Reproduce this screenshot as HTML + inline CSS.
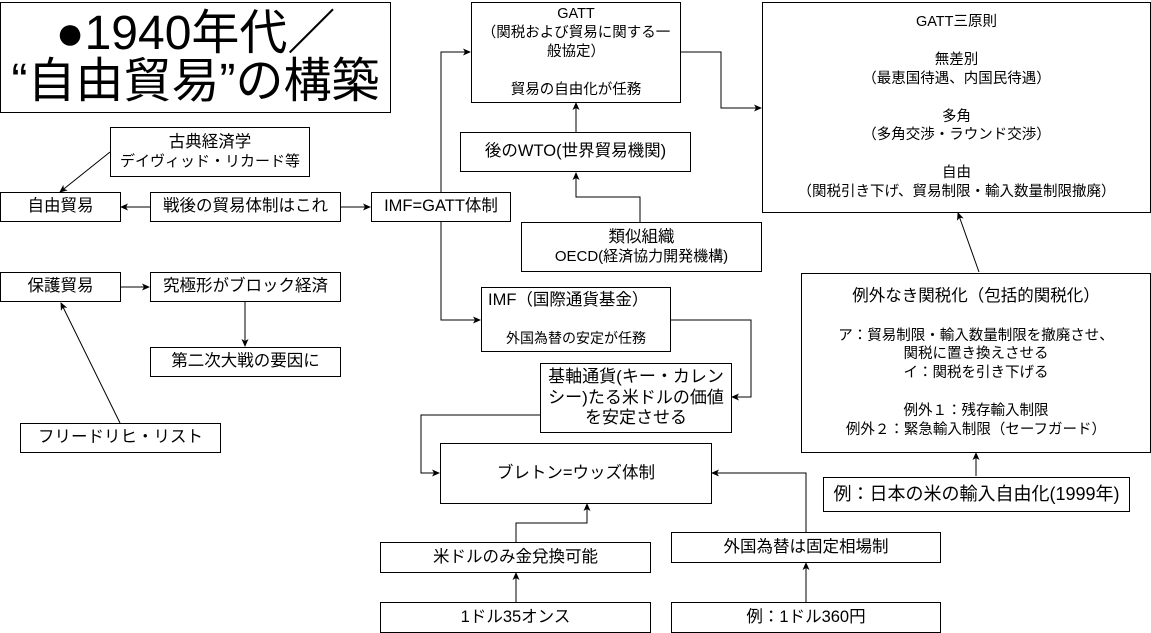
<!DOCTYPE html>
<html><head><meta charset="utf-8"><style>
body{margin:0;width:1151px;height:633px;background:#fff;position:relative;overflow:hidden;font-family:"Liberation Sans","Noto Sans CJK JP",sans-serif;color:#000}
.b{position:absolute;border:1px solid #000;box-sizing:border-box;display:flex;flex-direction:column;align-items:center;justify-content:center;text-align:center;background:#fff;font-size:16.5px;line-height:1.2;white-space:nowrap}
.s{font-size:14px;line-height:1.3}
svg{position:absolute;left:0;top:0}
</style></head><body>
<svg width="1151" height="633" viewBox="0 0 1151 633">
<defs><marker id="a" markerWidth="8" markerHeight="8" refX="7" refY="4" orient="auto" markerUnits="userSpaceOnUse"><path d="M0,0.5 L8,4 L0,7.5 L2,4 Z" fill="#000"/></marker></defs>
<g fill="none" stroke="#000" stroke-width="1" marker-end="url(#a)">
<path d="M110,152 L60,192"/>
<path d="M150,207 L121,207"/>
<path d="M341,207 L370,207"/>
<path d="M120,287 L149,287"/>
<path d="M245,302 L245,346"/>
<path d="M120,423 L61,303"/>
<path d="M441,192 L441,52 L470,52"/>
<path d="M441,222 L441,320 L480,320"/>
<path d="M681,52 L721,52 L721,108 L761,108"/>
<path d="M576,132 L576,103"/>
<path d="M640,222 L640,197 L576,197 L576,173"/>
<path d="M979,272 L958,213"/>
<path d="M976,476 L976,453"/>
<path d="M671,320 L751,320 L751,397 L732,397"/>
<path d="M540,415 L421,415 L421,473 L439,473"/>
<path d="M806,532 L806,473 L712,473"/>
<path d="M516,542 L516,523 L587,523 L587,504"/>
<path d="M516,602 L516,573"/>
<path d="M806,602 L806,563"/>
</g></svg>

<div class="b" style="left:0;top:2px;width:391px;height:111px;font-size:48px;line-height:1.0"><div>●1940年代／</div><div>“自由貿易”の構築</div></div>
<div class="b" style="left:110px;top:127px;width:200px;height:50px">古典経済学<br><span style="font-size:15px">デイヴィッド・リカード等</span></div>
<div class="b" style="left:0;top:192px;width:121px;height:30px">自由貿易</div>
<div class="b" style="left:150px;top:192px;width:191px;height:30px">戦後の貿易体制はこれ</div>
<div class="b" style="left:371px;top:192px;width:140px;height:30px">IMF=GATT体制</div>
<div class="b" style="left:0;top:272px;width:121px;height:30px">保護貿易</div>
<div class="b" style="left:150px;top:272px;width:191px;height:30px">究極形がブロック経済</div>
<div class="b" style="left:150px;top:347px;width:191px;height:30px">第二次大戦の要因に</div>
<div class="b" style="left:20px;top:423px;width:201px;height:30px">フリードリヒ・リスト</div>

<div class="b s" style="left:471px;top:2px;width:210px;height:101px;font-size:14.5px">GATT<br>（関税および貿易に関する一<br>般協定）<br><br>貿易の自由化が任務</div>
<div class="b" style="left:460px;top:132px;width:231px;height:40px">後のWTO(世界貿易機関)</div>
<div class="b" style="left:521px;top:222px;width:241px;height:50px">類似組織<br><span style="font-size:15px">OECD(経済協力開発機構)</span></div>
<div class="b" style="left:481px;top:287px;width:190px;height:65px;align-items:flex-start;justify-content:space-between;padding:3px 6px 4px"><span>IMF（国際通貨基金）</span><span style="font-size:14px;align-self:center">外国為替の安定が任務</span></div>
<div class="b" style="left:540px;top:363px;width:192px;height:70px;line-height:1.2;font-size:17px">基軸通貨(キー・カレン<br>シー)たる米ドルの価値<br>を安定させる</div>
<div class="b" style="left:440px;top:443px;width:272px;height:61px">ブレトン=ウッズ体制</div>
<div class="b" style="left:380px;top:542px;width:271px;height:31px">米ドルのみ金兌換可能</div>
<div class="b" style="left:380px;top:602px;width:271px;height:31px">1ドル35オンス</div>
<div class="b" style="left:671px;top:532px;width:270px;height:31px">外国為替は固定相場制</div>
<div class="b" style="left:671px;top:602px;width:270px;height:31px">例：1ドル360円</div>

<div class="b s" style="left:762px;top:2px;width:389px;height:211px;font-size:14.5px">GATT三原則<br><br>無差別<br>（最恵国待遇、内国民待遇）<br><br>多角<br>（多角交渉・ラウンド交渉）<br><br>自由<br>（関税引き下げ、貿易制限・輸入数量制限撤廃）</div>
<div class="b s" style="left:801px;top:273px;width:350px;height:180px;font-size:14.5px"><span style="font-size:16.5px">例外なき関税化（包括的関税化）</span><br>ア：貿易制限・輸入数量制限を撤廃させ、<br>関税に置き換えさせる<br>イ：関税を引き下げる<br><br>例外１：残存輸入制限<br>例外２：緊急輸入制限（セーフガード）</div>
<div class="b" style="left:823px;top:477px;width:307px;height:35px;font-size:18px">例：日本の米の輸入自由化(1999年)</div>
</body></html>
